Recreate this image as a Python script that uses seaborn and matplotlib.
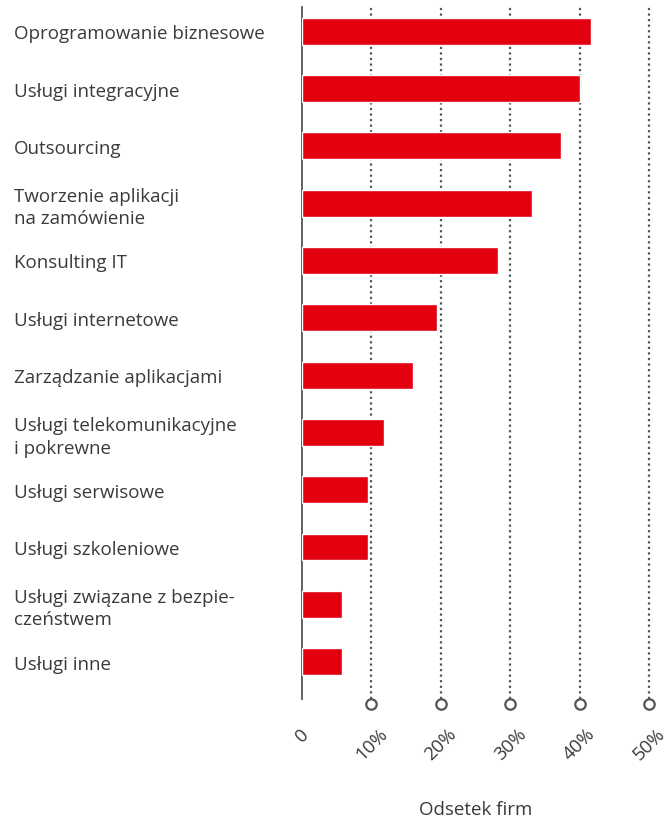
import matplotlib
matplotlib.use("Agg")
import matplotlib.pyplot as plt
import matplotlib.transforms as mtransforms
import seaborn as sns
import pandas as pd

categories = [
    "Oprogramowanie biznesowe",
    "Usługi integracyjne",
    "Outsourcing",
    "Tworzenie aplikacji\nna zamówienie",
    "Konsulting IT",
    "Usługi internetowe",
    "Zarządzanie aplikacjami",
    "Usługi telekomunikacyjne\ni pokrewne",
    "Usługi serwisowe",
    "Usługi szkoleniowe",
    "Usługi związane z bezpie-\nczeństwem",
    "Usługi inne",
]
values = [41.6, 40.0, 37.3, 33.2, 28.3, 19.4, 16.0, 11.8, 9.5, 9.5, 5.8, 5.8]
tick_values = [0, 10, 20, 30, 40, 50]
tick_labels = ["0", "10%", "20%", "30%", "40%", "50%"]
x_label = "Odsetek firm"

df = pd.DataFrame({"cat": categories, "val": values})

sns.set_theme(style="white")
plt.rcParams["font.family"] = ["Open Sans", "DejaVu Sans"]

TEXT = "#3a3a3a"
GRID = "#555555"
RED = "#e3000f"
FS = 13.5

fig = plt.figure(figsize=(6.7, 8.2), dpi=100)
ax = fig.add_axes([302 / 670, 1 - 700 / 820, (649 - 302) / 670, (700 - 8) / 820])

sns.barplot(data=df, x="val", y="cat", orient="h", color=RED, width=0.47,
            saturation=1, ax=ax, zorder=3)

ax.set_xlim(0, 50)
ax.set_ylim(11.653, -0.424)

for s in ["top", "right", "bottom"]:
    ax.spines[s].set_visible(False)
ax.spines["left"].set_color(GRID)
ax.spines["left"].set_linewidth(1.3)

# dotted gridlines ending in open circles
trans = mtransforms.blended_transform_factory(ax.transData, ax.transAxes)
for tv in tick_values[1:]:
    ax.plot([tv, tv], [0, 1], transform=trans, color=GRID, lw=1.6,
            linestyle=(0, (1, 1.5)), zorder=1, clip_on=False)
    ax.plot([tv], [-0.007], transform=trans, marker="o", ms=7.5, mfc="white",
            mec=GRID, mew=1.6, zorder=4, clip_on=False)

ax.set_xticks(tick_values)
ax.set_xticklabels(tick_labels, rotation=45, ha="center", color=TEXT, fontsize=FS)
ax.tick_params(axis="x", length=0, pad=18)

ax.set_yticks(range(len(categories)))
ax.set_yticklabels(categories, color=TEXT, fontsize=FS, linespacing=1.3)
for lab in ax.get_yticklabels():
    lab.set_horizontalalignment("left")
ax.tick_params(axis="y", length=0, pad=(302 - 14) * 0.72)

ax.set_ylabel("")
ax.set_xlabel(x_label, color=TEXT, fontsize=FS, va="center")
ax.xaxis.set_label_coords(0.5, (700 - 810) / 692)

fig.savefig("out.png", dpi=100, facecolor="white")
